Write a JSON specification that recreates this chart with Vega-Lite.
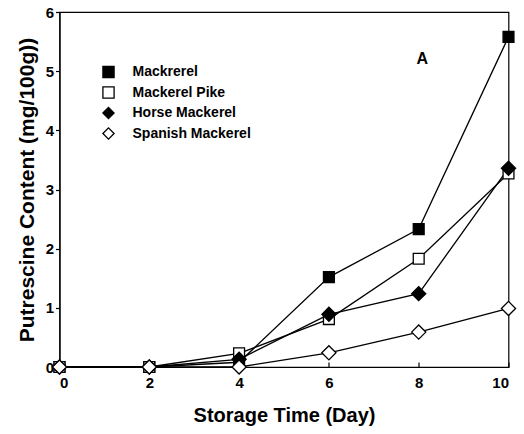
{
  "$schema": "https://vega.github.io/schema/vega-lite/v6.json",
  "width": 449,
  "height": 355,
  "autosize": "none",
  "padding": {"left": 59.5, "top": 12, "right": 15.5, "bottom": 67},
  "background": "white",
  "config": {
    "view": {"stroke": "black", "strokeWidth": 1.2},
    "font": "Liberation Sans",
    "axis": {
      "grid": false,
      "domainColor": "black",
      "domainWidth": 1.2,
      "tickColor": "black",
      "tickWidth": 1.2,
      "labelFont": "Liberation Sans",
      "labelFontWeight": "bold",
      "labelFontSize": 15,
      "labelColor": "black",
      "titleFont": "Liberation Sans",
      "titleFontWeight": "bold",
      "titleFontSize": 20,
      "titleColor": "black"
    },
    "legend": {
      "title": null,
      "padding": 0,
      "symbolSize": 125,
      "symbolStrokeColor": "black",
      "symbolStrokeWidth": 1.3,
      "labelFont": "Liberation Sans",
      "labelFontWeight": "bold",
      "labelFontSize": 14,
      "labelColor": "black",
      "labelOffset": 17,
      "rowPadding": 2.5
    }
  },
  "datasets": {
    "pts": [
      {"day": 0, "v": 0, "fish": "Mackrerel"},
      {"day": 2, "v": 0, "fish": "Mackrerel"},
      {"day": 4, "v": 0.08, "fish": "Mackrerel"},
      {"day": 6, "v": 1.52, "fish": "Mackrerel"},
      {"day": 8, "v": 2.33, "fish": "Mackrerel"},
      {"day": 10, "v": 5.58, "fish": "Mackrerel"},
      {"day": 0, "v": 0, "fish": "Mackerel Pike"},
      {"day": 2, "v": 0, "fish": "Mackerel Pike"},
      {"day": 4, "v": 0.23, "fish": "Mackerel Pike"},
      {"day": 6, "v": 0.81, "fish": "Mackerel Pike"},
      {"day": 8, "v": 1.83, "fish": "Mackerel Pike"},
      {"day": 10, "v": 3.27, "fish": "Mackerel Pike"},
      {"day": 0, "v": 0, "fish": "Horse Mackerel"},
      {"day": 2, "v": 0, "fish": "Horse Mackerel"},
      {"day": 4, "v": 0.13, "fish": "Horse Mackerel"},
      {"day": 6, "v": 0.89, "fish": "Horse Mackerel"},
      {"day": 8, "v": 1.24, "fish": "Horse Mackerel"},
      {"day": 10, "v": 3.36, "fish": "Horse Mackerel"},
      {"day": 0, "v": 0, "fish": "Spanish Mackerel"},
      {"day": 2, "v": 0, "fish": "Spanish Mackerel"},
      {"day": 4, "v": 0, "fish": "Spanish Mackerel"},
      {"day": 6, "v": 0.24, "fish": "Spanish Mackerel"},
      {"day": 8, "v": 0.59, "fish": "Spanish Mackerel"},
      {"day": 10, "v": 0.99, "fish": "Spanish Mackerel"}
    ],
    "note": [{"day": 8.08, "v": 5.2, "label": "A"}]
  },
  "layer": [
    {
      "data": {"name": "pts"},
      "mark": {"type": "line", "color": "black", "strokeWidth": 1.3},
      "encoding": {
        "x": {
          "field": "day", "type": "quantitative",
          "scale": {"domain": [0, 10], "nice": false},
          "axis": {"values": [0, 2, 4, 6, 8, 10], "format": "d", "tickSize": -5, "labelPadding": 13, "title": "Storage Time (Day)", "titlePadding": 15}
        },
        "y": {
          "field": "v", "type": "quantitative",
          "scale": {"domain": [0, 6], "nice": false},
          "axis": {"values": [0, 1, 2, 3, 4, 5, 6], "format": "d", "tickSize": 4, "labelPadding": 2, "title": "Putrescine Content (mg/100g))", "titlePadding": 8, "titleFontSize": 21}
        },
        "detail": {"field": "fish"}
      }
    },
    {
      "data": {"name": "pts"},
      "transform": [{"filter": {"field": "fish", "oneOf": ["Mackrerel", "Mackerel Pike"]}}],
      "mark": {"type": "point", "filled": false, "strokeWidth": 1.3, "opacity": 1, "size": 118},
      "encoding": {
        "x": {"field": "day", "type": "quantitative"},
        "y": {"field": "v", "type": "quantitative"},
        "shape": {
          "field": "fish", "type": "nominal",
          "scale": {"domain": ["Mackrerel", "Mackerel Pike", "Horse Mackerel", "Spanish Mackerel"], "range": ["square", "square", "diamond", "diamond"]},
          "legend": {"orient": "none", "legendX": 42, "legendY": 53}
        },
        "fill": {
          "field": "fish", "type": "nominal",
          "scale": {"domain": ["Mackrerel", "Mackerel Pike", "Horse Mackerel", "Spanish Mackerel"], "range": ["black", "white", "black", "white"]},
          "legend": {"orient": "none", "legendX": 42, "legendY": 53}
        },
        "stroke": {
          "field": "fish", "type": "nominal",
          "scale": {"domain": ["Mackrerel", "Mackerel Pike", "Horse Mackerel", "Spanish Mackerel"], "range": ["black", "black", "black", "black"]},
          "legend": {"orient": "none", "legendX": 42, "legendY": 53}
        }
      }
    },
    {
      "data": {"name": "pts"},
      "transform": [{"filter": {"field": "fish", "oneOf": ["Horse Mackerel", "Spanish Mackerel"]}}],
      "mark": {"type": "point", "filled": false, "strokeWidth": 1.3, "opacity": 1, "size": 200},
      "encoding": {
        "x": {"field": "day", "type": "quantitative"},
        "y": {"field": "v", "type": "quantitative"},
        "shape": {"field": "fish", "type": "nominal"},
        "fill": {"field": "fish", "type": "nominal"},
        "stroke": {"field": "fish", "type": "nominal"}
      }
    },
    {
      "data": {"name": "note"},
      "mark": {"type": "text", "font": "Liberation Sans", "fontWeight": "bold", "fontSize": 16, "color": "black"},
      "encoding": {
        "x": {"field": "day", "type": "quantitative"},
        "y": {"field": "v", "type": "quantitative"},
        "text": {"field": "label"}
      }
    }
  ]
}
